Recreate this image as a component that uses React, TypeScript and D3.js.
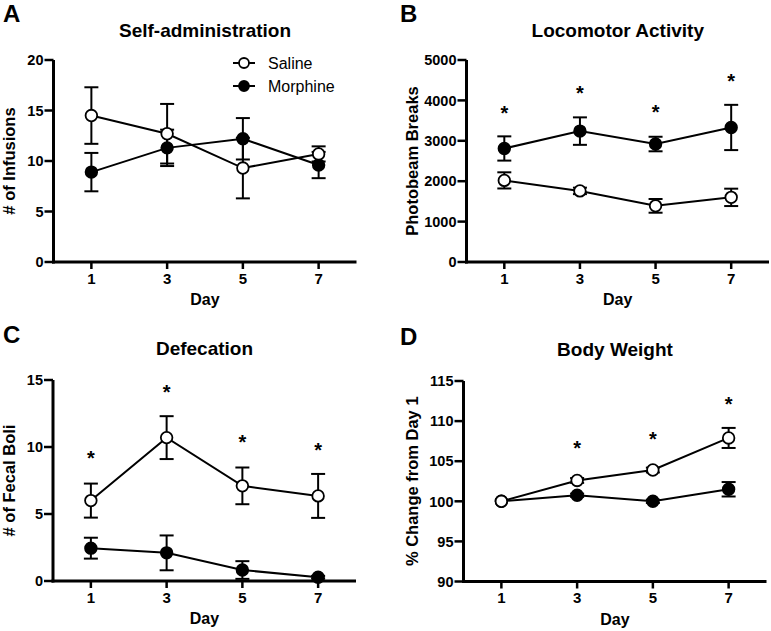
import React from "react";
import * as d3 from "d3";

const days = [1, 3, 5, 7];
const xTicks = [1, 3, 5, 7];

// Panel A: Self-administration
const saSalineMean = [14.5, 12.7, 9.3, 10.7];
const saSalineSem = [2.8, 2.95, 3.0, 0.75];
const saMorphMean = [8.9, 11.3, 12.2, 9.6];
const saMorphSem = [1.9, 1.8, 2.05, 1.3];
const saTicks = [0, 5, 10, 15, 20];

// Panel B: Locomotor Activity
const locoSalineMean = [2020, 1760, 1390, 1600];
const locoSalineSem = [200, 80, 170, 215];
const locoMorphMean = [2810, 3240, 2920, 3330];
const locoMorphSem = [300, 340, 180, 560];
const locoStars = [3810, 4300, 3830, 4600];
const locoTicks = [0, 1000, 2000, 3000, 4000, 5000];

// Panel C: Defecation
const defSalineMean = [6.0, 10.7, 7.1, 6.35];
const defSalineSem = [1.27, 1.6, 1.37, 1.64];
const defMorphMean = [2.45, 2.1, 0.82, 0.28];
const defMorphSem = [0.78, 1.3, 0.66, 0.1];
const defStars = [9.5, 14.45, 10.7, 10.1];
const defTicks = [0, 5, 10, 15];

// Panel D: Body Weight
const bwSalineMean = [100, 102.6, 103.9, 107.9];
const bwSalineSem = [0, 0.3, 0.3, 1.25];
const bwMorphMean = [100, 100.75, 100, 101.5];
const bwMorphSem = [0, 0.2, 0.2, 0.9];
const bwStars: (number | null)[] = [null, 107.15, 108.27, 112.75];
const bwTicks = [90, 95, 100, 105, 110, 115];

const FONT = "'Liberation Sans', Arial, Helvetica, sans-serif";

type PanelProps = {
  letter: string;
  title: string;
  yLabel: string;
  yDomain: [number, number];
  yTicks: number[];
  salineMean: number[];
  salineSem: number[];
  morphMean: number[];
  morphSem: number[];
  stars?: (number | null)[];
  legend?: boolean;
  x0: number;
  x1: number;
  yTop: number;
  yBottom: number;
  letterX: number;
  letterY: number;
  titleY: number;
  yLabelX: number;
};

function Series({ x, y, mean, sem, filled }: any) {
  const line = d3
    .line<number>()
    .x((_, i) => x(days[i]))
    .y((d) => y(d));
  return (
    <g>
      <path d={line(mean) || ""} fill="none" stroke="#000" strokeWidth={2} />
      {mean.map((m: number, i: number) => {
        const cx = x(days[i]);
        const s = sem[i];
        if (!s) return null;
        const yt = y(m + s);
        const yb = y(m - s);
        return (
          <g key={i} stroke="#000" strokeWidth={2}>
            <line x1={cx} x2={cx} y1={yt} y2={yb} />
            <line x1={cx - 7} x2={cx + 7} y1={yt} y2={yt} />
            <line x1={cx - 7} x2={cx + 7} y1={yb} y2={yb} />
          </g>
        );
      })}
      {mean.map((m: number, i: number) => (
        <circle
          key={"c" + i}
          cx={x(days[i])}
          cy={y(m)}
          r={5.8}
          fill={filled ? "#000" : "#fff"}
          stroke="#000"
          strokeWidth={1.8}
        />
      ))}
    </g>
  );
}

function Panel(p: PanelProps) {
  const x = d3.scaleLinear().domain([0, 8]).range([p.x0, p.x1]);
  const y = d3.scaleLinear().domain(p.yDomain).range([p.yBottom, p.yTop]);
  const midX = (p.x0 + p.x1) / 2;
  const midY = (p.yTop + p.yBottom) / 2;
  return (
    <g fontFamily={FONT}>
      <text x={p.letterX} y={p.letterY} fontSize={24} fontWeight="bold">
        {p.letter}
      </text>
      <text x={midX} y={p.titleY} fontSize={19} fontWeight="bold" textAnchor="middle">
        {p.title}
      </text>
      {/* y axis */}
      <line x1={p.x0} x2={p.x0} y1={p.yTop} y2={p.yBottom + 1.5} stroke="#000" strokeWidth={3} />
      {p.yTicks.map((t) => (
        <g key={t}>
          <line x1={p.x0 - 9} x2={p.x0} y1={y(t)} y2={y(t)} stroke="#000" strokeWidth={2.5} />
          <text
            x={p.x0 - 10}
            y={y(t)}
            dy="0.36em"
            fontSize={14.5}
            fontWeight="bold"
            textAnchor="end"
          >
            {t}
          </text>
        </g>
      ))}
      {/* x axis */}
      <line x1={p.x0 - 1.5} x2={p.x1} y1={p.yBottom} y2={p.yBottom} stroke="#000" strokeWidth={3} />
      {xTicks.map((t) => (
        <g key={t}>
          <line x1={x(t)} x2={x(t)} y1={p.yBottom} y2={p.yBottom + 7} stroke="#000" strokeWidth={2.5} />
          <text x={x(t)} y={p.yBottom + 21.5} fontSize={15} fontWeight="bold" textAnchor="middle">
            {t}
          </text>
        </g>
      ))}
      <text x={midX} y={p.yBottom + 43} fontSize={16} fontWeight="bold" textAnchor="middle">
        Day
      </text>
      <text
        transform={`translate(${p.yLabelX},${midY}) rotate(-90)`}
        fontSize={16.5}
        fontWeight="bold"
        textAnchor="middle"
      >
        {p.yLabel}
      </text>
      <Series x={x} y={y} mean={p.morphMean} sem={p.morphSem} filled />
      <Series x={x} y={y} mean={p.salineMean} sem={p.salineSem} filled={false} />
      {p.stars &&
        p.stars.map((s, i) =>
          s == null ? null : (
            <text
              key={"s" + i}
              x={x(days[i])}
              y={y(s) + 11.5}
              fontSize={20}
              fontWeight="bold"
              textAnchor="middle"
            >
              *
            </text>
          )
        )}
      {p.legend && (
        <g>
          <line x1={233} x2={255} y1={63} y2={63} stroke="#000" strokeWidth={2} />
          <circle cx={244} cy={63} r={5} fill="#fff" stroke="#000" strokeWidth={1.8} />
          <text x={268} y={63} dy="0.36em" fontSize={16}>
            Saline
          </text>
          <line x1={233} x2={255} y1={86} y2={86} stroke="#000" strokeWidth={2} />
          <circle cx={244} cy={86} r={5} fill="#000" stroke="#000" strokeWidth={1.8} />
          <text x={268} y={86} dy="0.36em" fontSize={16}>
            Morphine
          </text>
        </g>
      )}
    </g>
  );
}

export default function App() {
  return (
    <svg
      width={771}
      height={631}
      style={{ position: "absolute", left: 0, top: 0, background: "#fff" }}
    >
      <rect width={771} height={631} fill="#fff" />
      <Panel
        letter="A"
        title="Self-administration"
        yLabel="# of Infusions"
        yDomain={[0, 20]}
        yTicks={saTicks}
        salineMean={saSalineMean}
        salineSem={saSalineSem}
        morphMean={saMorphMean}
        morphSem={saMorphSem}
        legend
        x0={53.5}
        x1={356.5}
        yTop={60}
        yBottom={262}
        letterX={3}
        letterY={22}
        titleY={37}
        yLabelX={15}
      />
      <Panel
        letter="B"
        title="Locomotor Activity"
        yLabel="Photobeam Breaks"
        yDomain={[0, 5000]}
        yTicks={locoTicks}
        salineMean={locoSalineMean}
        salineSem={locoSalineSem}
        morphMean={locoMorphMean}
        morphSem={locoMorphSem}
        stars={locoStars}
        x0={466.5}
        x1={769}
        yTop={60}
        yBottom={262}
        letterX={400}
        letterY={22}
        titleY={37}
        yLabelX={418}
      />
      <Panel
        letter="C"
        title="Defecation"
        yLabel="# of Fecal Boli"
        yDomain={[0, 15]}
        yTicks={defTicks}
        salineMean={defSalineMean}
        salineSem={defSalineSem}
        morphMean={defMorphMean}
        morphSem={defMorphSem}
        stars={defStars}
        x0={53}
        x1={356}
        yTop={380}
        yBottom={581}
        letterX={3}
        letterY={343}
        titleY={355}
        yLabelX={15}
      />
      <Panel
        letter="D"
        title="Body Weight"
        yLabel="% Change from Day 1"
        yDomain={[90, 115]}
        yTicks={bwTicks}
        salineMean={bwSalineMean}
        salineSem={bwSalineSem}
        morphMean={bwMorphMean}
        morphSem={bwMorphSem}
        stars={bwStars}
        x0={463.5}
        x1={766.5}
        yTop={381}
        yBottom={581.5}
        letterX={400}
        letterY={345}
        titleY={356}
        yLabelX={418}
      />
    </svg>
  );
}
